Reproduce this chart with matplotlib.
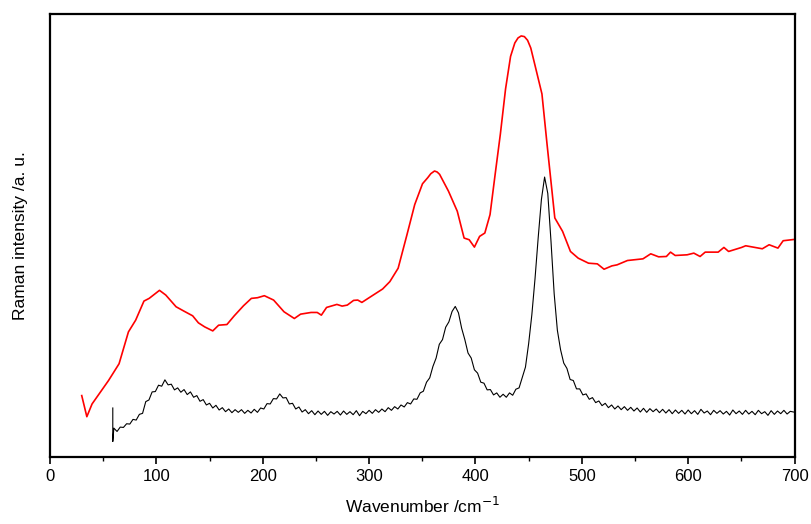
import matplotlib.pyplot as plt
import numpy as np

plt.rcParams['font.family'] = ['Liberation Sans', 'DejaVu Sans']

red_wn = [29.8, 34.6, 39.5, 55, 64.9, 73.7, 80.5, 88.3, 93.2, 102.9, 108.8, 118.5,
          125.9, 134.1, 139.5, 145.4, 153, 158.5, 166.3, 173.2, 181.9, 189.3, 195.1,
          201.5, 210.2, 220, 229.7, 235.6, 245.4, 251.2, 255.1, 260, 269.7, 274.6,
          279.5, 285.4, 289.3, 293.2, 300, 312.7, 319.5, 327.3, 335.6, 342.9, 350.2,
          355.1, 358, 361.5, 364, 366.3, 374.6, 382.9, 389.3, 394.1, 399, 403.9, 408.8,
          413.7, 418.5, 423.4, 428.3, 433, 437, 440, 443, 446, 449, 452, 456, 462.5,
          467.3, 474.6, 481.9, 489.3, 496.6, 506.3, 514.6, 520.9, 528.3, 533.1, 542.9,
          557.5, 564.8, 572.2, 579.5, 583.4, 587.8, 599, 605.3, 611.2, 616, 628.2,
          633.6, 638, 650.2, 654.1, 669.7, 676.1, 684.4, 689.3, 700]
red_int = [183, 120, 158, 228, 278, 373, 408, 465, 473, 497, 483, 448,
           435, 421, 400, 388, 376, 393, 395, 421, 451, 473, 475,
           481, 468, 433, 413, 426, 431, 431, 423, 446, 455, 450,
           453, 467, 468, 461, 475, 501, 523, 563, 663, 753, 815,
           833, 845, 853, 850, 843, 793, 733, 653, 648, 626, 658, 668,
           723, 843, 963, 1098, 1195, 1235, 1250, 1256, 1254, 1243, 1220, 1168, 1083,
           933, 713, 673, 613, 593, 578, 576, 560, 570, 573, 586,
           591, 606, 597, 598, 611, 601, 603, 608, 598, 611, 611,
           625, 613, 625, 630, 621, 633, 623, 645, 649]

# black spectrum: spike at start, then every 3 cm-1 from 60 to 699
black_spike_wn = [59, 59]
black_spike_int = [146, 46]
black_wn = list(range(60, 700, 3))
black_int = [86, 76, 89, 88, 99, 98, 112, 110, 127, 130,
             165, 170, 194, 195, 214, 211, 230, 215, 217, 200,
             206, 193, 201, 186, 194, 178, 183, 166, 171, 155,
             160, 146, 154, 140, 147, 135, 143, 132, 141, 133,
             141, 130, 139, 131, 142, 133, 146, 143, 159, 158,
             174, 173, 188, 176, 177, 158, 160, 143, 149, 134,
             141, 129, 138, 126, 137, 127, 136, 124, 135, 128,
             136, 125, 137, 127, 135, 126, 138, 123, 136, 129,
             139, 130, 141, 133, 143, 135, 147, 139, 150, 143,
             155, 149, 162, 158, 173, 172, 191, 196, 223, 236,
             270, 295, 336, 350, 387, 403, 434, 449, 430, 384,
             350, 310, 295, 260, 250, 223, 220, 200, 201, 185,
             191, 178, 187, 178, 191, 184, 202, 206, 237, 268,
             338, 424, 532, 655, 768, 835, 786, 644, 487, 378,
             320, 280, 264, 231, 228, 203, 203, 185, 188, 172,
             177, 162, 167, 153, 160, 147, 155, 143, 152, 141,
             150, 139, 148, 137, 146, 134, 145, 133, 144, 135,
             143, 132, 142, 131, 141, 129, 140, 130, 139, 128,
             140, 129, 138, 127, 142, 131, 137, 126, 139, 130,
             138, 128, 136, 125, 140, 129, 137, 127, 139, 128,
             136, 126, 139, 129, 135, 124, 138, 127, 137, 129,
             139, 128, 136, 134]

fig = plt.figure(figsize=(8.11, 5.24), dpi=100)
ax = fig.add_axes([0.0617, 0.128, 0.918, 0.845])

ax.plot(red_wn, red_int, color='#ff0000', lw=1.2)
ax.plot(black_spike_wn + black_wn, black_spike_int + black_int, color='black', lw=0.8)

ax.set_xlim(0, 700)
ax.set_ylim(0, 1321)
ax.set_xticks(np.arange(0, 701, 100))
ax.set_xticks(np.arange(50, 701, 100), minor=True)
ax.set_yticks([])
ax.tick_params(axis='x', which='major', direction='out', length=5, width=1.2,
               labelsize=12, pad=4)
ax.tick_params(axis='x', which='minor', direction='out', length=3, width=1.0)
for s in ax.spines.values():
    s.set_linewidth(1.6)

ax.set_xlabel('Wavenumber /cm$^{-1}$', fontsize=12.5, labelpad=8)
ax.set_ylabel('Raman intensity /a. u.', fontsize=12.5, labelpad=16)

fig.savefig('out.png', dpi=100)
